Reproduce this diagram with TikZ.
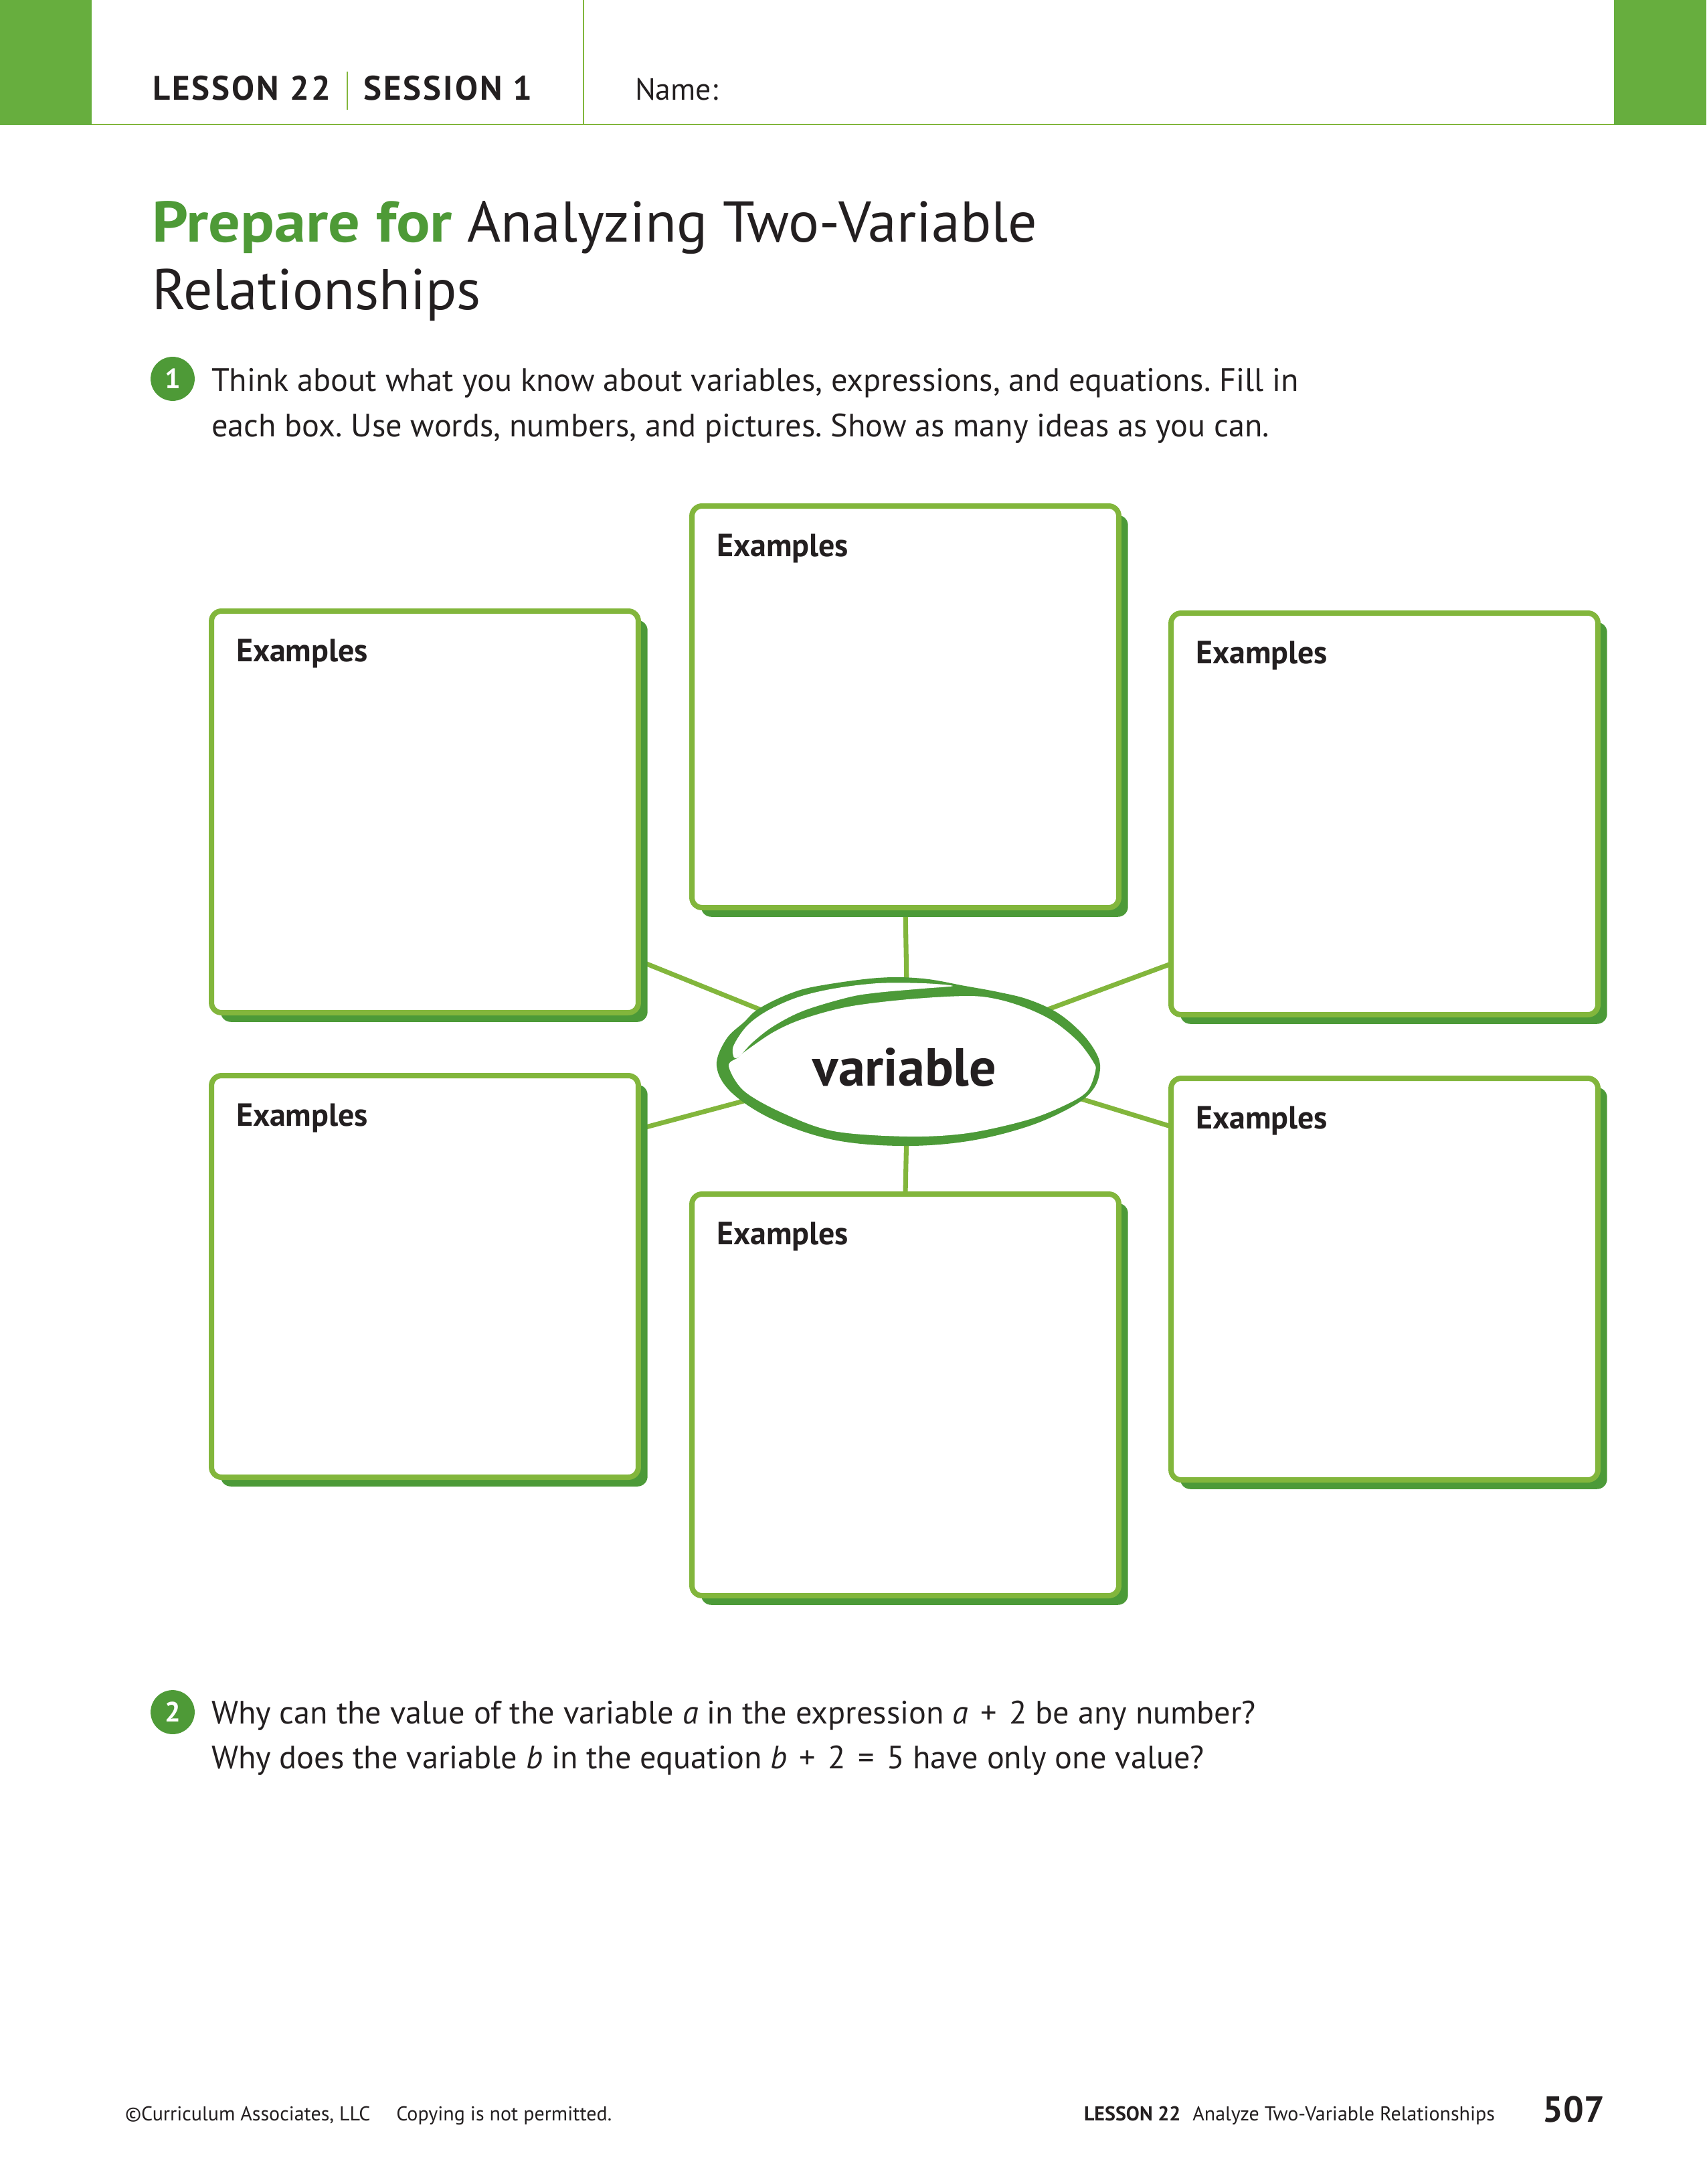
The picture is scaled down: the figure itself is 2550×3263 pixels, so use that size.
\documentclass[tikz,border=0pt]{standalone}
\usepackage{fontspec}
\setmainfont{PT Sans}
\usetikzlibrary{calc,shadows}
\definecolor{bargreen}{HTML}{67AE3E}
\definecolor{boxgreen}{HTML}{82B63C}
\definecolor{deepgreen}{HTML}{4C9A38}
\definecolor{titlegreen}{HTML}{4E9A37}
\definecolor{ink}{HTML}{231F20}
\pgfdeclarelayer{paper}
\pgfdeclarelayer{background}
\pgfsetlayers{paper,background,main}
\newcommand{\opgap}{\hspace{0.38em}}

\begin{document}
\frenchspacing
\begin{tikzpicture}[x=0.24pt,y=-0.24pt,
  every node/.style={inner sep=0pt, outer sep=0pt, text=ink},
  card/.style={draw=boxgreen, line width=1.92pt, fill=white, rounded corners=3.6pt,
    minimum width=153.1pt, minimum height=144pt,
    general shadow={fill=deepgreen, shadow xshift=3.3pt, shadow yshift=-3.3pt}},
  cardtitle/.style={anchor=base west, font=\fontsize{11.5}{13}\selectfont\bfseries},
  link/.style={draw=boxgreen, line width=1.7pt},
  body/.style={anchor=base west, font=\fontsize{11.6}{15.6}\selectfont},
  qnum/.style={circle, fill=titlegreen, minimum size=15.8pt, text=white,
    font=\fontsize{10}{12}\selectfont\bfseries},
  foot/.style={font=\fontsize{7.2}{9}\selectfont},
]
\useasboundingbox (0,0) rectangle (2550,3263);
\begin{pgfonlayer}{paper}
  \fill[white] (0,0) rectangle (2550,3263);
\end{pgfonlayer}

% header band
\fill[bargreen] (0,0) rectangle (137,187);
\fill[bargreen] (2412,0) rectangle (2550,187);
\draw[boxgreen, line width=0.7pt] (137,186) -- (2412,186);
\draw[boxgreen, line width=0.5pt] (872,0) -- (872,186);
\node[anchor=base west, font=\fontsize{12.2}{14}\selectfont\bfseries\addfontfeatures{LetterSpace=6}] (lesson) at (228,150) {LESSON 22};
\node[anchor=base west, font=\fontsize{12.2}{14}\selectfont\bfseries\addfontfeatures{LetterSpace=6}] (session) at (543,150) {SESSION 1};
\draw[boxgreen, line width=0.5pt] (519,107) -- (519,164);
\node[anchor=base west, font=\fontsize{11}{13}\selectfont] (name) at (949,150) {Name:};

% title
\node[anchor=base west, font=\fontsize{20.6}{24}\selectfont] (title1) at (227,362)
  {\scalebox{1.1}[1]{\textcolor{titlegreen}{\bfseries Prepare for}} Analyzing Two-Variable};
\node[anchor=base west, font=\fontsize{20.6}{24}\selectfont] (title2) at (227,462) {Relationships};

% question 1
\node[qnum] (q1) at (258,566) {1};
\node[body] (q1a) at (316,585) {Think about what you know about variables, expressions, and equations. Fill in};
\node[body] (q1b) at (316,652) {each box. Use words, numbers, and pictures. Show as many ideas as you can.};

% six answer cards
\node[card] (tc) at (1353,1056) {};
\node[card] (tl) at (635,1213) {};
\node[card] (tr) at (2069,1216) {};
\node[card] (bl) at (635,1907) {};
\node[card] (br) at (2069,1911) {};
\node[card] (bc) at (1353,2084) {};
\foreach \c in {tc,tl,tr,bl,br,bc}
  \node[cardtitle] (\c t) at ($(\c.north west)+(37,75)$) {Examples};

% spokes to the centre word
\coordinate (vc) at (1357,1590);
\coordinate (etl) at (1150,1514);
\coordinate (etr) at (1550,1514);
\coordinate (ebl) at (1115,1644);
\coordinate (ebr) at (1600,1637);
\begin{pgfonlayer}{background}
  \draw[link] (tc.south) -- (vc);
  \draw[link] (bc.north) -- (vc);
  \draw[link] ($(tl.east)+(0,222)$) -- (etl);
  \draw[link] ($(tr.west)+(0,224)$) -- (etr);
  \draw[link] ($(bl.east)+(0,-220)$) -- (ebl);
  \draw[link] ($(br.west)+(0,-228)$) -- (ebr);
\end{pgfonlayer}

% brush-stroke oval
\fill[deepgreen] plot[smooth cycle, tension=0.6] coordinates {
  (1071,1593) (1085,1553) (1112,1527) (1134,1507) (1179,1485) (1223,1473)
  (1312,1461) (1379,1462) (1442,1473) (1491,1482) (1536,1493) (1580,1513)
  (1616,1543) (1638,1573) (1644,1597) (1634,1627) (1603,1653) (1536,1683)
  (1446,1705) (1348,1712) (1246,1703) (1156,1673) (1094,1633)};
\fill[white] plot[smooth cycle, tension=0.55] coordinates {
  (1103,1580) (1112,1572) (1156,1542) (1201,1522) (1268,1504) (1357,1493)
  (1446,1488) (1491,1493) (1536,1507) (1576,1527) (1612,1557) (1634,1587)
  (1637,1600) (1625,1630) (1594,1650) (1536,1673) (1446,1693) (1357,1698)
  (1246,1690) (1170,1663) (1112,1630) (1089,1593)};
\fill[white] plot[smooth cycle, tension=0.55] coordinates {
  (1097,1580) (1096,1563) (1116,1533) (1147,1510) (1192,1490) (1246,1477)
  (1312,1469) (1379,1469) (1424,1473) (1379,1477) (1312,1483) (1268,1490)
  (1201,1510) (1156,1533) (1125,1557) (1105,1578)};
\node[anchor=base, font=\fontsize{19.2}{21}\selectfont\bfseries] (var) at (1352,1622) {variable};

% question 2
\node[qnum] (q2) at (258,2558) {2};
\node[body] (q2a) at (316,2575) {Why can the value of the variable \textit{a} in the expression \textit{a}\opgap+\opgap2 be any number?};
\node[body] (q2b) at (316,2642) {Why does the variable \textit{b} in the equation \textit{b}\opgap+\opgap2\opgap=\opgap5 have only one value?};

% footer
\node[foot, anchor=base west] (copy) at (187,3168) {©Curriculum Associates, LLC\hspace{1.3em}Copying is not permitted.};
\node[foot, anchor=base east] (runfoot) at (2234,3168) {\textbf{LESSON 22}\hspace{0.6em}Analyze Two-Variable Relationships};
\node[anchor=base east, font=\fontsize{13}{15}\selectfont\bfseries] (page) at (2398,3170) {507};
\end{tikzpicture}
\end{document}
